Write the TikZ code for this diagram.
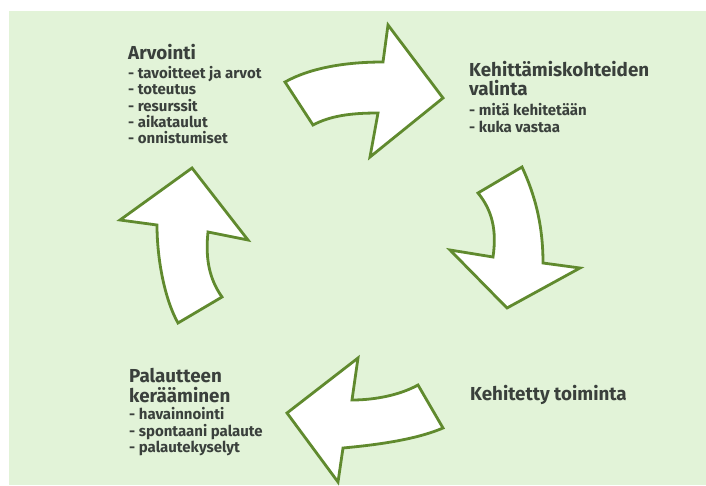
\documentclass[tikz,border=0pt]{standalone}
\usepackage{fontspec}
\setmainfont{Fira Sans}
\definecolor{bggreen}{RGB}{226,243,216}
\definecolor{olive}{RGB}{96,138,46}
\definecolor{txt}{RGB}{58,64,60}
\tikzset{
  arrowshape/.style={draw=olive, fill=white, line width=2.8pt, line join=miter},
  headtxt/.style={font=\bfseries\fontsize{18.8}{21}\selectfont, text=txt, anchor=base west, inner sep=0pt},
  itemtxt/.style={font=\bfseries\fontsize{15}{17}\selectfont, text=txt, anchor=base west, inner sep=0pt}
}
\begin{document}
\begin{tikzpicture}[x=1pt,y=-1pt]
\useasboundingbox (0,0) rectangle (706,485);
\fill[white] (0,0) rectangle (706,485);
\fill[bggreen] (9,11) rectangle (706,485);

% top arrow (to the right)
\draw[arrowshape] (285,82) .. controls (310,68) and (345,62) .. (383,62)
  -- (388,25) -- (443,98) -- (370,157) -- (378,113)
  .. controls (350,113) and (330,116) .. (313,125) -- cycle;
% right arrow (downward)
\draw[arrowshape] (478,193) -- (522,167)
  .. controls (535,195) and (543,225) .. (543,263)
  -- (580,268) -- (507,308) -- (450,250) -- (493,257)
  .. controls (497,230) and (492,210) .. cycle;
% bottom arrow (to the left)
\draw[arrowshape] (358,358) -- (352,400)
  .. controls (375,400) and (400,395) .. (418,385)
  -- (443,428) .. controls (415,440) and (375,445) .. (343,448)
  -- (338,482) -- (287,413) -- cycle;
% left arrow (upward)
\draw[arrowshape] (192,168) -- (248,240) -- (208,232)
  .. controls (205,260) and (210,280) .. (222,297)
  -- (178,323) .. controls (165,300) and (157,260) .. (157,225)
  -- (120,220) -- cycle;

% Arvointi
\node[headtxt] (arvh) at (128,59) {Arvointi};
\node[itemtxt] (arv1) at (128,78) {- tavoitteet ja arvot};
\node[itemtxt] (arv2) at (128,94.5) {- toteutus};
\node[itemtxt] (arv3) at (128,111) {- resurssit};
\node[itemtxt] (arv4) at (128,127) {- aikataulut};
\node[itemtxt] (arv5) at (128,143) {- onnistumiset};

% Kehittamiskohteiden valinta
\node[headtxt] (keh1) at (469,76) {Kehittämiskohteiden};
\node[headtxt] (keh2) at (469,95) {valinta};
\node[itemtxt] (keh3) at (469,115) {- mitä kehitetään};
\node[itemtxt] (keh4) at (469,132) {- kuka vastaa};

% Kehitetty toiminta
\node[headtxt] (kt) at (470,400) {Kehitetty toiminta};

% Palautteen keraaminen
\node[headtxt] (pal1) at (129,382) {Palautteen};
\node[headtxt] (pal2) at (129,402) {kerääminen};
\node[itemtxt] (pal3) at (129,419) {- havainnointi};
\node[itemtxt] (pal4) at (129,436) {- spontaani palaute};
\node[itemtxt] (pal5) at (129,452) {- palautekyselyt};
\end{tikzpicture}
\end{document}
